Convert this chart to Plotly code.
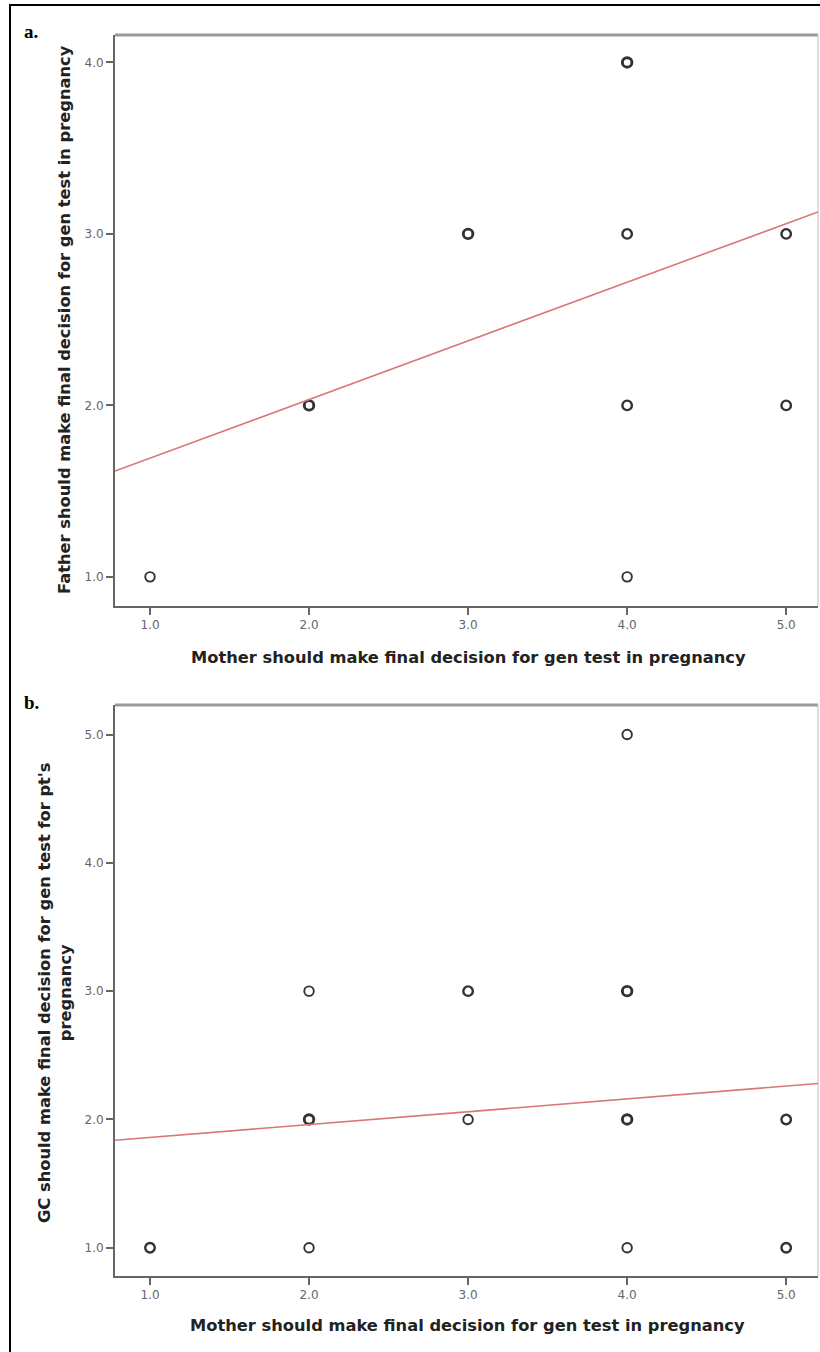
import plotly.graph_objects as go

# ---- data ----
a_x = [1, 2, 3, 4, 4, 4, 4, 5, 5]
a_y = [1, 2, 3, 4, 3, 2, 1, 3, 2]
a_n = [1, 3, 3, 3, 2, 2, 1, 2, 2]          # apparent overlap (darker rings)
a_fit = (1.35, 0.342)                       # intercept, slope

b_x = [1, 2, 2, 2, 3, 3, 4, 4, 4, 4, 5, 5]
b_y = [1, 3, 2, 1, 3, 2, 5, 3, 2, 1, 2, 1]
b_n = [2, 1, 3, 1, 2, 1, 1, 3, 3, 1, 2, 2]
b_fit = (1.76, 0.10)

x_ticks = [1.0, 2.0, 3.0, 4.0, 5.0]
a_yticks = [1.0, 2.0, 3.0, 4.0]
b_yticks = [1.0, 2.0, 3.0, 4.0, 5.0]
tick_fmt = lambda v: f"{v:.1f}"

x_title = "Mother should make final decision for gen test in pregnancy"
a_ytitle = "Father should make final decision for gen test in pregnancy"
b_ytitle = "GC should make final decision for gen test for pt's<br>pregnancy"

x_range = [0.78, 5.2]
a_yrange = [0.83, 4.16]
b_yrange = [0.78, 5.23]

# ---- figure ----
W, H = 820, 1352
L, R, T, B = 115, 2, 35, 76
plot_h = H - T - B
def py(px):  # pixel y (from top) -> paper y
    return (H - B - px) / plot_h
def px_(p):  # pixel x -> paper x
    return (p - L) / (W - L - R)

fig = go.Figure()

def add_panel(xs, ys, ns, fit, xa, ya):
    fig.add_trace(go.Scatter(
        x=xs, y=ys, mode="markers", xaxis=xa, yaxis=ya,
        marker=dict(symbol="circle-open", size=9.5, color="#333333",
                    line=dict(width=[1.4 + 0.5 * n for n in ns], color="#333333")),
        showlegend=False, hoverinfo="x+y"))
    a, b = fit
    fig.add_trace(go.Scatter(
        x=x_range, y=[a + b * x_range[0], a + b * x_range[1]], mode="lines",
        xaxis=xa, yaxis=ya, line=dict(color="#d97777", width=1.6),
        showlegend=False, hoverinfo="skip"))

add_panel(a_x, a_y, a_n, a_fit, "x", "y")
add_panel(b_x, b_y, b_n, b_fit, "x2", "y2")

ax_common = dict(showgrid=False, zeroline=False, showline=True, linecolor="#666666",
                 linewidth=2, ticks="outside", ticklen=7, tickwidth=2, tickcolor="#666666",
                 tickfont=dict(family="DejaVu Sans", size=12, color="#666666"))

a_dom = [py(606), py(35)]
b_dom = [py(1276), py(705)]

fig.update_layout(
    width=W, height=H, margin=dict(l=L, r=R, t=T, b=B),
    paper_bgcolor="white", plot_bgcolor="white",
    xaxis=dict(domain=[0, 1], range=x_range, anchor="y", tickvals=x_ticks,
               ticktext=[tick_fmt(v) for v in x_ticks], **ax_common),
    yaxis=dict(domain=a_dom, range=a_yrange, anchor="x", tickvals=a_yticks,
               ticktext=[tick_fmt(v) for v in a_yticks], **ax_common),
    xaxis2=dict(domain=[0, 1], range=x_range, anchor="y2", tickvals=x_ticks,
                ticktext=[tick_fmt(v) for v in x_ticks], **ax_common),
    yaxis2=dict(domain=b_dom, range=b_yrange, anchor="x2", tickvals=b_yticks,
                ticktext=[tick_fmt(v) for v in b_yticks], **ax_common),
)

shapes = []
# top/right lighter borders of plot boxes
for dom in (a_dom, b_dom):
    shapes.append(dict(type="line", xref="paper", yref="paper", x0=0, x1=1,
                       y0=dom[1], y1=dom[1], line=dict(color="#9a9a9a", width=3), layer="below"))
    shapes.append(dict(type="line", xref="paper", yref="paper", x0=1, x1=1,
                       y0=dom[0], y1=dom[1], line=dict(color="#c8c8c8", width=1.2), layer="below"))
# outer frame
shapes.append(dict(type="rect", xref="paper", yref="paper",
                   x0=px_(10), x1=px_(830), y0=py(1365), y1=py(5),
                   line=dict(color="black", width=2), fillcolor="rgba(0,0,0,0)"))
fig.update_layout(shapes=shapes)

title_font = dict(family="DejaVu Sans", size=16.3, color="#222222")
label_font = dict(family="Liberation Serif", size=19, color="black")
ann = [
    dict(text="<b>a.</b>", x=px_(22), y=py(32), xanchor="left", yanchor="middle", font=label_font),
    dict(text="<b>b.</b>", x=px_(22), y=py(703), xanchor="left", yanchor="middle", font=label_font),
    dict(text="<b>" + x_title + "</b>", x=px_(468), y=py(657), xanchor="center",
         yanchor="middle", font=title_font),
    dict(text="<b>" + x_title + "</b>", x=px_(467), y=py(1325), xanchor="center",
         yanchor="middle", font=title_font),
    dict(text="<b>" + a_ytitle + "</b>", x=px_(64), y=py(320), xanchor="center",
         yanchor="middle", textangle=-90, font=title_font),
    dict(text="<b>" + b_ytitle.replace("<br>", "</b><br><b>") + "</b>", x=px_(55), y=py(993),
         xanchor="center", yanchor="middle", textangle=-90, font=title_font),
]
for a in ann:
    a.update(xref="paper", yref="paper", showarrow=False)
fig.update_layout(annotations=ann)

fig.write_html("out.html", config={"displayModeBar": False},
               post_script="document.body.style.margin='0px';document.body.style.overflow='hidden';")
